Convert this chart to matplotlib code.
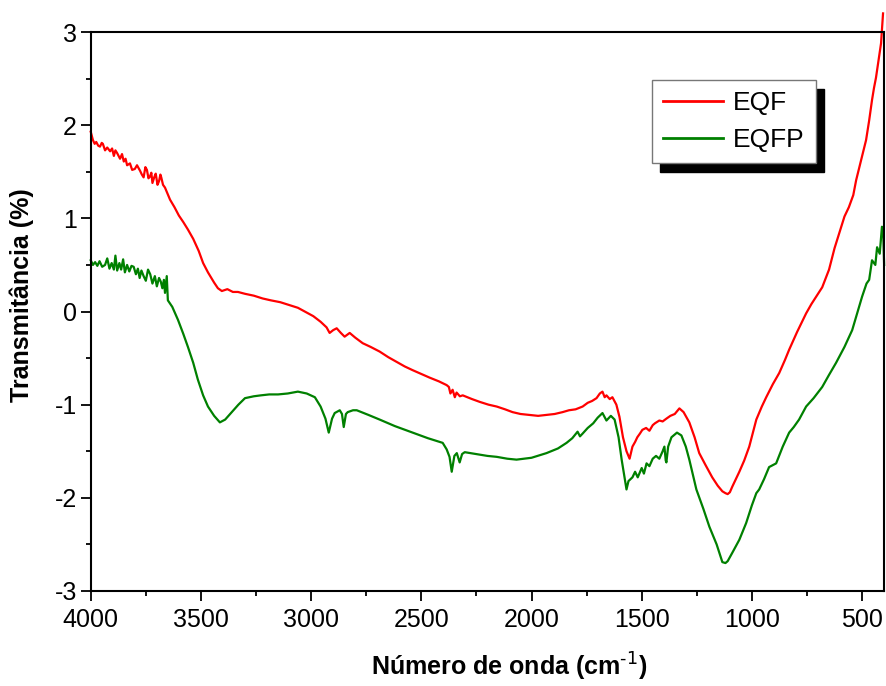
import matplotlib
matplotlib.use("Agg")
import matplotlib.pyplot as plt
from matplotlib.ticker import MultipleLocator

plt.rcParams['font.family'] = ['Liberation Sans', 'DejaVu Sans']
plt.rcParams['axes.unicode_minus'] = False

# FTIR spectra: wavenumber (cm-1) and transmittance (%)
eqf_wn = [4000, 3990, 3982, 3975, 3966, 3958, 3950, 3945, 3935, 3925,
          3912, 3903, 3895, 3888, 3880, 3867, 3858, 3850, 3842, 3835,
          3822, 3812, 3800, 3790, 3776, 3768, 3760, 3752, 3745, 3738,
          3731, 3725, 3720, 3712, 3705, 3697, 3690, 3684, 3680, 3672,
          3663, 3640, 3620, 3600, 3580, 3559, 3535, 3510, 3490, 3468,
          3440, 3423, 3405, 3380, 3355, 3332, 3300, 3260, 3220, 3183,
          3140, 3100, 3060, 3029, 2990, 2957, 2930, 2916, 2900, 2884,
          2865, 2848, 2825, 2800, 2766, 2730, 2689, 2650, 2612, 2575,
          2539, 2500, 2462, 2420, 2385, 2375, 2368, 2358, 2348, 2340,
          2325, 2312, 2270, 2235, 2195, 2158, 2120, 2086, 2050, 2009,
          1970, 1932, 1895, 1859, 1830, 1800, 1768, 1745, 1725, 1705,
          1690, 1678, 1668, 1660, 1645, 1633, 1615, 1601, 1585, 1569,
          1555, 1542, 1530, 1520, 1508, 1497, 1480, 1465, 1450, 1440,
          1420, 1405, 1388, 1370, 1350, 1329, 1310, 1284, 1260, 1239,
          1210, 1180, 1155, 1134, 1120, 1110, 1100, 1089, 1057, 1035,
          1012, 980, 955, 935, 905, 876, 850, 831, 795, 754,
          730, 708, 681, 650, 625, 604, 580, 560, 540, 527,
          505, 482, 468, 455, 446, 437, 425, 414, 405]
eqf_t = [1.93, 1.84, 1.80, 1.82, 1.78, 1.77, 1.81, 1.80, 1.73, 1.76,
         1.72, 1.75, 1.67, 1.73, 1.70, 1.64, 1.69, 1.61, 1.64, 1.57,
         1.59, 1.52, 1.53, 1.57, 1.51, 1.47, 1.44, 1.55, 1.52, 1.43,
         1.45, 1.49, 1.38, 1.44, 1.48, 1.36, 1.40, 1.47, 1.44, 1.36,
         1.33, 1.20, 1.12, 1.03, 0.96, 0.88, 0.78, 0.65, 0.52, 0.42,
         0.31, 0.25, 0.22, 0.24, 0.21, 0.21, 0.19, 0.17, 0.14, 0.12,
         0.10, 0.07, 0.04, 0.00, -0.05, -0.11, -0.17, -0.23, -0.20, -0.18,
         -0.23, -0.27, -0.23, -0.28, -0.34, -0.38, -0.43, -0.49, -0.54, -0.59,
         -0.63, -0.67, -0.71, -0.75, -0.79, -0.81, -0.88, -0.84, -0.92, -0.87,
         -0.91, -0.90, -0.94, -0.97, -1.00, -1.02, -1.05, -1.08, -1.10, -1.11,
         -1.12, -1.11, -1.10, -1.08, -1.06, -1.05, -1.02, -0.98, -0.96, -0.93,
         -0.88, -0.86, -0.92, -0.90, -0.94, -0.92, -1.00, -1.13, -1.35, -1.50,
         -1.58, -1.45, -1.40, -1.35, -1.31, -1.27, -1.25, -1.28, -1.22, -1.20,
         -1.17, -1.18, -1.15, -1.12, -1.10, -1.04, -1.08, -1.19, -1.35, -1.52,
         -1.65, -1.78, -1.87, -1.93, -1.95, -1.96, -1.94, -1.88, -1.72, -1.60,
         -1.45, -1.16, -1.02, -0.92, -0.78, -0.66, -0.52, -0.41, -0.22, -0.02,
         0.08, 0.16, 0.26, 0.45, 0.68, 0.84, 1.02, 1.12, 1.25, 1.41,
         1.62, 1.84, 2.05, 2.27, 2.40, 2.51, 2.70, 2.88, 3.20]

eqfp_wn = [4000, 3990, 3980, 3970, 3960, 3948, 3935, 3925, 3915, 3905,
           3895, 3888, 3880, 3870, 3862, 3853, 3845, 3835, 3825, 3815,
           3805, 3795, 3786, 3778, 3770, 3760, 3750, 3740, 3730, 3720,
           3709, 3700, 3690, 3682, 3675, 3668, 3663, 3655, 3650, 3630,
           3604, 3580, 3559, 3535, 3514, 3490, 3468, 3440, 3414, 3390,
           3364, 3330, 3300, 3260, 3228, 3190, 3150, 3106, 3060, 3020,
           2983, 2957, 2935, 2920, 2905, 2893, 2870, 2860, 2852, 2842,
           2834, 2810, 2793, 2740, 2689, 2620, 2539, 2470, 2403, 2385,
           2372, 2362, 2350, 2339, 2326, 2315, 2303, 2250, 2200, 2158,
           2110, 2068, 2000, 1932, 1880, 1841, 1815, 1791, 1780, 1768,
           1745, 1720, 1700, 1678, 1660, 1640, 1623, 1605, 1591, 1580,
           1569, 1560, 1542, 1530, 1518, 1500, 1490, 1478, 1465, 1450,
           1435, 1420, 1405, 1397, 1391, 1388, 1380, 1365, 1340, 1320,
           1300, 1284, 1252, 1220, 1193, 1160, 1134, 1120, 1110, 1089,
           1057, 1026, 1000, 980, 967, 945, 922, 890, 860, 831,
           810, 786, 754, 720, 681, 650, 618, 580, 545, 514,
           500, 480, 468, 455, 440, 432, 420, 410, 405, 400]
eqfp_t = [0.55, 0.50, 0.53, 0.49, 0.54, 0.48, 0.50, 0.57, 0.46, 0.52,
          0.45, 0.60, 0.44, 0.52, 0.45, 0.56, 0.42, 0.50, 0.43, 0.49,
          0.48, 0.40, 0.46, 0.36, 0.44, 0.38, 0.33, 0.45, 0.40, 0.30,
          0.38, 0.27, 0.36, 0.32, 0.25, 0.34, 0.20, 0.38, 0.12, 0.05,
          -0.09, -0.24, -0.38, -0.55, -0.73, -0.90, -1.02, -1.12, -1.19, -1.16,
          -1.09, -1.00, -0.93, -0.91, -0.90, -0.89, -0.89, -0.88, -0.86, -0.88,
          -0.92, -1.02, -1.15, -1.30, -1.15, -1.09, -1.06, -1.10, -1.24, -1.10,
          -1.08, -1.06, -1.06, -1.11, -1.16, -1.23, -1.30, -1.36, -1.41, -1.48,
          -1.56, -1.72, -1.55, -1.52, -1.62, -1.53, -1.51, -1.53, -1.55, -1.56,
          -1.58, -1.59, -1.57, -1.52, -1.47, -1.41, -1.36, -1.29, -1.34, -1.31,
          -1.25, -1.20, -1.14, -1.09, -1.17, -1.12, -1.16, -1.35, -1.59, -1.75,
          -1.91, -1.82, -1.78, -1.72, -1.78, -1.68, -1.74, -1.63, -1.66, -1.58,
          -1.55, -1.58, -1.50, -1.45, -1.60, -1.62, -1.45, -1.35, -1.30, -1.33,
          -1.45, -1.59, -1.91, -2.12, -2.31, -2.50, -2.69, -2.70, -2.68, -2.59,
          -2.45, -2.27, -2.08, -1.95, -1.91, -1.80, -1.67, -1.63, -1.45, -1.30,
          -1.24, -1.16, -1.02, -0.93, -0.81, -0.68, -0.55, -0.38, -0.20, 0.05,
          0.16, 0.30, 0.34, 0.55, 0.50, 0.69, 0.62, 0.91, 0.90, 0.50]

x_major = [4000, 3500, 3000, 2500, 2000, 1500, 1000, 500]
y_major = [-3, -2, -1, 0, 1, 2, 3]

fig = plt.figure(figsize=(8.86, 6.86), dpi=100)
ax = fig.add_axes([0.1024, 0.1385, 0.8955, 0.8148])

ax.plot(eqf_wn, eqf_t, color='#ff0000', lw=1.6, label='EQF', clip_on=False)
ax.plot(eqfp_wn, eqfp_t, color='#008000', lw=1.6, label='EQFP', clip_on=False)

ax.set_xlim(4000, 400)
ax.set_ylim(-3, 3)
ax.set_xticks(x_major)
ax.set_yticks(y_major)
ax.xaxis.set_minor_locator(MultipleLocator(250))
ax.yaxis.set_minor_locator(MultipleLocator(0.5))

for s in ax.spines.values():
    s.set_linewidth(1.5)
ax.tick_params(which='major', direction='out', length=7, width=1.3,
               labelsize=18, pad=3)
ax.tick_params(axis='x', which='major', pad=5)
ax.tick_params(which='minor', direction='out', length=3.5, width=1.3)

ax.set_xlabel('Número de onda (cm$^{\\text{-1}}$)', fontsize=18,
              fontweight='bold')
ax.xaxis.set_label_coords(0.527, -0.107)
ax.set_ylabel('Transmitância (%)', fontsize=18, fontweight='bold')
ax.yaxis.set_label_coords(-0.071, 0.53)

leg = ax.legend(loc='upper left', bbox_to_anchor=(0.7075, 0.914),
                borderaxespad=0, fontsize=19, frameon=True, fancybox=False,
                shadow={'color': 'black', 'alpha': 1, 'ox': 6, 'oy': -6.5},
                handlelength=2.25, handletextpad=0.4, labelspacing=0.5,
                borderpad=0.42)
leg.get_frame().set_edgecolor('#777777')
leg.get_frame().set_linewidth(1.0)
for line in leg.get_lines():
    line.set_linewidth(2)

fig.savefig('out.png', dpi=100)
